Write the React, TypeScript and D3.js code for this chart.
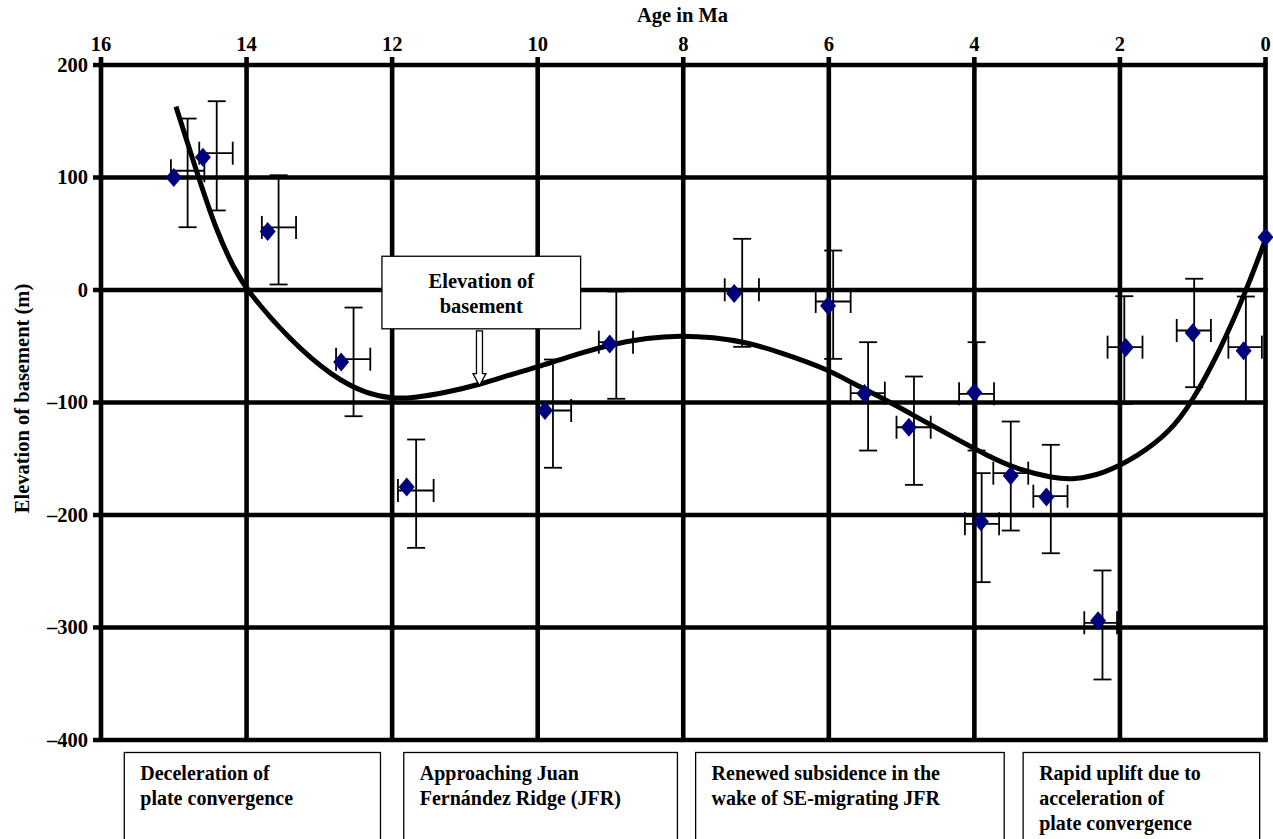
import React, { useEffect } from "react";
import * as d3 from "d3";

// ---------- data ----------
const AGE_TICKS = [16, 14, 12, 10, 8, 6, 4, 2, 0];
const ELEV_TICKS = [200, 100, 0, -100, -200, -300, -400];

// diamond markers (age Ma, elevation m)
const POINT_AGE = [15.0, 14.6, 13.71, 12.7, 11.8, 9.9, 9.01, 7.3, 6.01, 5.51, 4.9, 4.0, 3.5, 3.01, 3.91, 2.3, 1.92, 1.0, 0.3, 0.0];
const POINT_ELEV = [100, 118, 52, -64, -175, -107, -48, -3, -14, -92, -122, -91, -165, -184, -206, -294, -51, -38, -54, 47];

// error crosses (vertical bar at ERR_AGE, horizontal bar at ERR_ELEV)
const ERR_AGE = [14.81, 14.41, 13.56, 12.53, 11.67, 9.79, 8.92, 7.19, 5.94, 5.46, 4.83, 3.97, 3.5, 2.95, 3.9, 2.24, 1.94, 0.98, 0.27];
const ERR_ELEV = [106, 121.6, 55.6, -61.5, -178.2, -107.1, -46.4, 0.2, -10.2, -91.7, -122, -92.3, -162.8, -183.3, -207.8, -295.8, -50.8, -36, -50.8];
const ERR_ELEV_HI = [152.4, 167.8, 102, -15.6, -132.9, -61.8, -1.3, 45.5, 35.1, -46.4, -76.9, -46.4, -116.9, -137.6, -162.8, -249.3, -5.5, 10, -5.8];
const ERR_ELEV_LO = [55.8, 70.7, 4.9, -112.2, -229.2, -158, -96.7, -50.5, -61.2, -142.7, -173.2, -142.7, -213.8, -234, -259.7, -346.2, -101.2, -86.4, -99.7];
const ERR_AGE_OLD = [15.04, 14.65, 13.79, 12.77, 11.92, 9.99, 9.16, 7.43, 6.18, 5.7, 5.07, 4.21, 3.74, 3.19, 4.13, 2.49, 2.17, 1.22, 0.51];
const ERR_AGE_YOUNG = [14.58, 14.19, 13.32, 12.3, 11.43, 9.54, 8.69, 6.96, 5.7, 5.23, 4.6, 3.73, 3.26, 2.72, 3.66, 2.04, 1.69, 0.75, 0.05];

// trend curve samples
const CURVE_AGE = [14.97, 14.66, 14.41, 14.18, 14.0, 13.4, 12.81, 12.35, 12.0, 11.71, 11.25, 10.79, 10.34, 10.0, 9.42, 8.96, 8.5, 8.04, 7.59, 7.13, 6.67, 6.03, 5.66, 5.2, 4.75, 4.29, 3.83, 3.37, 2.92, 2.64, 2.23, 1.77, 1.31, 1.01, 0.625, 0.26, 0.0];
const CURVE_ELEV = [163, 100, 52, 20, 0, -45, -77.5, -92.3, -96.5, -96, -91, -84, -74.5, -68.6, -56, -48, -42.5, -40.4, -42, -46.4, -55.3, -70, -83.4, -98.2, -114.5, -130.8, -147.1, -160.4, -167, -168.6, -163.4, -148.6, -126, -99.7, -53.8, 0, 45];

// phase captions
const PHASE_LINES = [
  ["Deceleration of", "plate convergence"],
  ["Approaching Juan", "Fernández Ridge (JFR)"],
  ["Renewed subsidence in the", "wake of SE-migrating JFR"],
  ["Rapid uplift due to", "acceleration of", "plate convergence"],
];
const PHASE_OLD = [15.68, 11.84, 7.83, 3.33];
const PHASE_YOUNG = [12.16, 8.08, 3.59, 0.08];

const X_TITLE = "Age in Ma";
const Y_TITLE = "Elevation of basement (m)";
const NOTE_LINES = ["Elevation of", "basement"];

// ---------- layout ----------
const W = 1273;
const H = 839;
const FONT = "'Liberation Serif', 'Times New Roman', Times, serif";
const NAVY = "#00007f";

export default function App() {
  useEffect(() => {
    document.body.style.margin = "0";
  }, []);

  const x = d3.scaleLinear().domain([16, 0]).range([101, 1265.5]);
  const y = d3.scaleLinear().domain([200, -400]).range([65, 740]);

  const fmt = (v: number) => (v < 0 ? "\u2013" + Math.abs(v) : String(v));

  const line = d3
    .line<number>()
    .x((_, i) => x(CURVE_AGE[i]))
    .y((_, i) => y(CURVE_ELEV[i]))
    .curve(d3.curveBasis);
  const curvePath = line(CURVE_AGE) || "";

  const gridW = 4.6;
  const x0 = x(16);
  const x1 = x(0);
  const yTop = y(200);
  const yBot = y(-400);

  // annotation (in data space)
  const noteL = x(12.14);
  const noteR = x(9.41);
  const noteT = y(30);
  const noteB = y(-34.5);
  const arrX = x(10.8);
  const arrTip = y(-85);

  const arrow = [
    [arrX - 3, noteB + 2],
    [arrX + 3, noteB + 2],
    [arrX + 3, arrTip - 12],
    [arrX + 6.5, arrTip - 12],
    [arrX, arrTip],
    [arrX - 6.5, arrTip - 12],
    [arrX - 3, arrTip - 12],
  ];

  const diamond = (cx: number, cy: number) =>
    `M${cx},${cy - 9.5}L${cx + 8},${cy}L${cx},${cy + 9.5}L${cx - 8},${cy}Z`;

  return (
    <svg
      width={W}
      height={H}
      style={{ position: "absolute", left: 0, top: 0, background: "#fff" }}
      fontFamily={FONT}
      fontWeight="bold"
    >
      <rect x={0} y={0} width={W} height={H} fill="#fff" />

      {/* titles */}
      <text x={682.5} y={22} textAnchor="middle" fontSize={20.5}>
        {X_TITLE}
      </text>
      <text
        transform={`translate(21.5,${(y(0) + y(-200)) / 2 - 4}) rotate(-90)`}
        textAnchor="middle"
        dominantBaseline="central"
        fontSize={20.5}
      >
        {Y_TITLE}
      </text>

      {/* tick labels */}
      {AGE_TICKS.map((a) => (
        <text key={"xt" + a} x={x(a)} y={51} textAnchor="middle" fontSize={20.5}>
          {a}
        </text>
      ))}
      {ELEV_TICKS.map((v) => (
        <text
          key={"yt" + v}
          x={88}
          y={y(v)}
          dy="0.34em"
          textAnchor="end"
          fontSize={20.5}
        >
          {fmt(v)}
        </text>
      ))}

      {/* grid */}
      {AGE_TICKS.map((a) => (
        <line
          key={"gv" + a}
          x1={x(a)}
          x2={x(a)}
          y1={yTop - 8}
          y2={yBot + 2}
          stroke="#000"
          strokeWidth={gridW}
        />
      ))}
      {ELEV_TICKS.map((v) => (
        <line
          key={"gh" + v}
          x1={x0 - 8}
          x2={x1 + 2}
          y1={y(v)}
          y2={y(v)}
          stroke="#000"
          strokeWidth={gridW}
        />
      ))}

      {/* error bars */}
      {ERR_AGE.map((a, i) => {
        const ex = x(a);
        const ey = y(ERR_ELEV[i]);
        const yh = y(ERR_ELEV_HI[i]);
        const yl = y(ERR_ELEV_LO[i]);
        const xo = x(ERR_AGE_OLD[i]);
        const xy = x(ERR_AGE_YOUNG[i]);
        return (
          <g key={"e" + i} stroke="#000" strokeWidth={1.8} fill="none">
            <line x1={ex} x2={ex} y1={yh} y2={yl} />
            <line x1={ex - 9} x2={ex + 9} y1={yh} y2={yh} />
            <line x1={ex - 9} x2={ex + 9} y1={yl} y2={yl} />
            <line x1={xo} x2={xy} y1={ey} y2={ey} />
            <line x1={xo} x2={xo} y1={ey - 11.5} y2={ey + 11.5} />
            <line x1={xy} x2={xy} y1={ey - 11.5} y2={ey + 11.5} />
          </g>
        );
      })}

      {/* trend curve */}
      <path d={curvePath} fill="none" stroke="#000" strokeWidth={5} strokeLinecap="butt" />

      {/* diamonds */}
      {POINT_AGE.map((a, i) => (
        <path key={"p" + i} d={diamond(x(a), y(POINT_ELEV[i]))} fill={NAVY} />
      ))}

      {/* annotation */}
      <rect
        x={noteL}
        y={noteT}
        width={noteR - noteL}
        height={noteB - noteT}
        fill="#fff"
        stroke="#000"
        strokeWidth={1.3}
      />
      {NOTE_LINES.map((t, i) => (
        <text
          key={"n" + i}
          x={(noteL + noteR) / 2}
          y={noteT + 32 + i * 25}
          textAnchor="middle"
          fontSize={20.5}
        >
          {t}
        </text>
      ))}
      <polygon
        points={arrow.map((p) => p.join(",")).join(" ")}
        fill="#fff"
        stroke="#000"
        strokeWidth={1.3}
      />

      {/* phase boxes */}
      {PHASE_LINES.map((lines, i) => {
        const l = x(PHASE_OLD[i]);
        const r = x(PHASE_YOUNG[i]);
        return (
          <g key={"ph" + i}>
            <rect
              x={l}
              y={752.5}
              width={r - l}
              height={120}
              fill="#fff"
              stroke="#000"
              strokeWidth={1.3}
            />
            {lines.map((t, j) => (
              <text key={j} x={l + 16} y={780 + j * 25} fontSize={20}>
                {t}
              </text>
            ))}
          </g>
        );
      })}
    </svg>
  );
}
